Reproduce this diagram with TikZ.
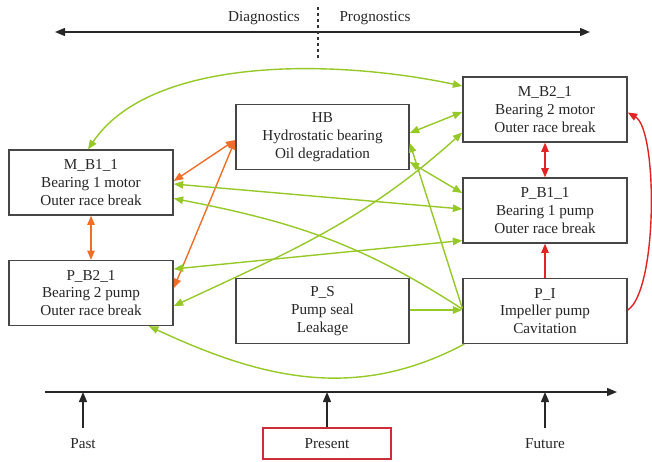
\documentclass[tikz,border=0pt]{standalone}
\usepackage{fontspec}
\setmainfont{Liberation Serif}
\usetikzlibrary{arrows.meta,calc}
\definecolor{gline}{RGB}{150,200,40}
\definecolor{oline}{RGB}{240,110,40}
\definecolor{rline}{RGB}{225,35,35}
\definecolor{boxc}{RGB}{70,70,70}
\definecolor{presred}{RGB}{205,45,55}
\begin{document}
\begin{tikzpicture}[x=0.75pt,y=-0.75pt,
  every node/.style={font=\fontsize{11.4}{13.4}\selectfont,text=black!85},
  box/.style={draw=boxc,line width=1.2pt,minimum width=#1,minimum height=48.5pt,align=center,inner sep=0pt},
  >={Triangle[length=7pt,width=5.6pt]},
  garr/.style={draw=gline,line width=1.05pt},
  oarr/.style={draw=oline,line width=1.05pt},
  rarr/.style={draw=rline,line width=1.05pt},
  axis/.style={draw=black!85,line width=1.05pt,>={Triangle[length=7.5pt,width=6pt]}},
  lab/.style={minimum width=96pt,minimum height=23.25pt,inner sep=0pt}]
\useasboundingbox (0,0) rectangle (652,461);

% boxes
\node[box=123pt] (mb1) at (91,182.5) {M\_B1\_1\\Bearing 1 motor\\Outer race break};
\node[box=123pt] (pb2) at (91,293) {P\_B2\_1\\Bearing 2 pump\\Outer race break};
\node[box=129.75pt] (hb) at (322.5,137) {HB\\Hydrostatic bearing\\Oil degradation};
\node[box=129.75pt] (ps) at (322.5,311) {P\_S\\Pump seal\\Leakage};
\node[box=123pt] (mb2) at (545,109.5) {M\_B2\_1\\Bearing 2 motor\\Outer race break};
\node[box=123pt] (pb1) at (545,210.5) {P\_B1\_1\\Bearing 1 pump\\Outer race break};
\node[box=123pt] (pi) at (545,311) {P\_I\\Impeller pump\\Cavitation};

% top axis
\node (diag) at (264,18) {Diagnostics};
\node (prog) at (375,18) {Prognostics};
\coordinate (tl) at (55,32);
\coordinate (tr) at (590,32);
\draw[axis,<->] (tl) -- (tr);
\coordinate (dtop) at (318,7);
\coordinate (dbot) at (318,58);
\draw[black!80,line width=0.9pt,dash pattern=on 2.5pt off 2pt] (dtop) -- (dbot);

% bottom axis
\coordinate (bl) at (45,392);
\coordinate (br) at (617,392);
\draw[axis,->] (bl) -- (br);
\node[lab] (past) at (83,443.5) {Past};
\node[lab,draw=presred,line width=1.1pt] (pres) at (327,443.5) {Present};
\node[lab] (fut) at (545,443.5) {Future};
\draw[axis,->] (past.north) -- (past.north |- bl);
\draw[axis,->] (pres.north) -- (pres.north |- bl);
\draw[axis,->] (fut.north) -- (fut.north |- bl);

% orange connectors
\draw[oarr,<->] ($(hb.west)+(0,3)$) -- ($(mb1.east)+(0,-1.5)$);
\draw[oarr,<->] ($(hb.west)+(0,3)$) -- ($(pb2.east)+(0,-5)$);
\draw[oarr,<->] (mb1.south) -- (pb2.north);

% green connectors
\draw[garr,<->] ($(mb1.north)+(-3,0)$) .. controls +(62,-92) and +(-133,-28) .. ($(mb2.west)+(0,-23.5)$);
\draw[garr,<->] ($(mb1.east)+(0,1.5)$) -- ($(pb1.west)+(0,-1.5)$);
\draw[garr,->] ($(pi.west)+(0,-2)$) to[out=147,in=-11] ($(mb1.east)+(0,16)$);
\draw[garr,<->] ($(pb2.east)+(0,-24)$) -- ($(pb1.west)+(0,30)$);
\draw[garr,<->] ($(pb2.east)+(0,13)$) to[out=25,in=222] ($(mb2.west)+(0,23)$);
\draw[garr,<->] ($(hb.east)+(0,-4)$) -- ($(mb2.west)+(0,2.5)$);
\draw[garr,<->] ($(hb.east)+(0,25)$) -- ($(pb1.west)+(0,-17.5)$);
\draw[garr,->] ($(pi.west)+(0,-3)$) -- ($(hb.east)+(0,6)$);
\draw[garr,->] ($(ps.east)+(0,-1)$) -- ($(pi.west)+(0,-1)$);
\draw[garr,->] ($(pi.south west)+(2,0)$) to[out=208,in=-25] ($(pb2.south)+(58,0)$);

% red connectors
\draw[rarr,<->] (mb2.south) -- (pb1.north);
\draw[rarr,->] (pi.north) -- (pb1.south);
\draw[rarr,->] ($(pi.east)+(0,-1)$) .. controls +(30,-20) and +(30,17.5) .. ($(mb2.east)+(0,3)$);
\end{tikzpicture}
\end{document}
